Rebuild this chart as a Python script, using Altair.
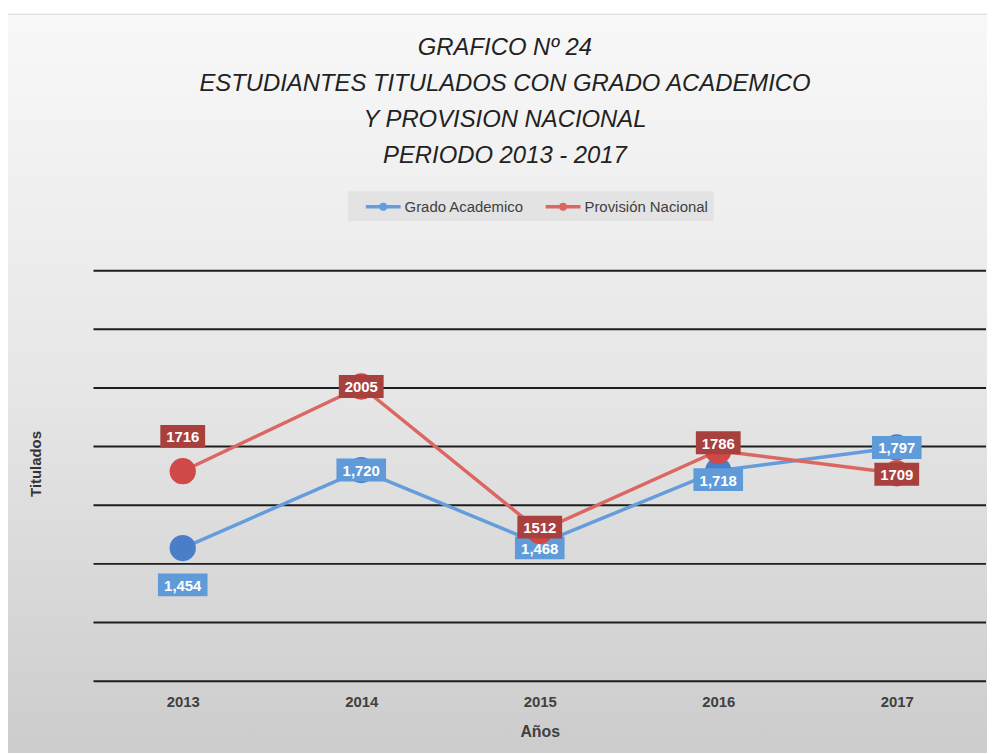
import altair as alt
import pandas as pd

# ---------------- data ----------------
years = ["2013", "2014", "2015", "2016", "2017"]
grado = [1454, 1720, 1468, 1718, 1797]
provision = [1716, 2005, 1512, 1786, 1709]
series = ["Grado Academico", "Provisión Nacional"]
grid_values = [1000, 1200, 1400, 1600, 1800, 2000, 2200, 2400]
title_lines = [
    "GRAFICO Nº 24",
    "ESTUDIANTES TITULADOS CON GRADO ACADEMICO",
    "Y  PROVISION NACIONAL",
    "PERIODO 2013 - 2017",
]

df = pd.DataFrame({
    "year": years * 2,
    "value": grado + provision,
    "serie": [series[0]] * len(years) + [series[1]] * len(years),
})
grid_df = pd.DataFrame({"value": grid_values})

# ---------------- style ----------------
W, H = 898, 413
BLUE_LINE, RED_LINE = "#649cdc", "#dc6661"
BLUE_DOT, RED_DOT = "#4b7ec8", "#d04848"
BLUE_BOX, RED_BOX = "#5f9ad9", "#a8413d"
FONT = "Liberation Sans"

# label vertical shifts (pixels) per series / year
blue_shift = {"2013": 37, "2014": 0, "2015": 4, "2016": 9, "2017": 0}
red_shift = {"2013": -35, "2014": 0, "2015": -4, "2016": -8, "2017": 1}

x = alt.X("year:O", scale=alt.Scale(type="point", padding=0.5),
          axis=alt.Axis(title="Años", labelAngle=0, ticks=False, domain=False, zindex=1,
                        labelFont=FONT, labelFontSize=15, labelFontWeight="bold",
                        labelColor="#404040", labelPadding=14,
                        titleFont=FONT, titleFontSize=16, titleFontWeight="bold",
                        titleColor="#404040", titlePadding=14, grid=False))
yscale = alt.Scale(domain=[1000, 2400], nice=False, zero=False)
y = alt.Y("value:Q", scale=yscale,
          axis=alt.Axis(labels=False, ticks=False, domain=False, grid=False, zindex=1,
                        title="Titulados", titleFont=FONT, titleFontSize=15,
                        titleFontWeight="bold", titleColor="#333333", titlePadding=50,
                        titleY=194))

bg = alt.Chart(pd.DataFrame({"k": [0]})).mark_rect(
    fill=alt.Gradient(gradient="linear", x1=0, x2=0, y1=0, y2=1,
                      stops=[alt.GradientStop(color="#f8f8f8", offset=0),
                             alt.GradientStop(color="#e6e6e6", offset=0.5),
                             alt.GradientStop(color="#cbcbcb", offset=1)]),
    stroke="#d6d6d6", strokeWidth=1,
).encode(x=alt.value(-89), x2=alt.value(W + 20), y=alt.value(-258), y2=alt.value(H + 90))

grid = alt.Chart(grid_df).mark_rule(color="#1e1e1e", strokeWidth=2).encode(
    y=y, x=alt.value(0), x2=alt.value(W))

legend_shape = "M-2,0H2M0.26,0A0.26,0.26,0,1,1,-0.26,0A0.26,0.26,0,1,1,0.26,0Z"

lines = alt.Chart(df).mark_line(strokeWidth=3.5).encode(
    x=x, y=y,
    color=alt.Color("serie:N", scale=alt.Scale(domain=series, range=[BLUE_LINE, RED_LINE]),
                    legend=alt.Legend(orient="none", legendX=256, legendY=-80, title=None,
                                      direction="horizontal", fillColor="#e3e3e3",
                                      padding=5, symbolType=legend_shape, symbolSize=306,
                                      symbolStrokeWidth=3.5, labelFont=FONT,
                                      labelFontSize=15, labelColor="#404040",
                                      columnPadding=8, labelOffset=11, symbolOffset=20)),
)

layers = [bg, grid, lines]

def series_layers(name, vals_fmt, dot, box, half_w, shift):
    base = alt.Chart(df).transform_filter(alt.datum.serie == name)
    out = [base.mark_circle(size=700, opacity=1, color=dot).encode(x=x, y=y)]
    shape = f"M-{half_w},-1H{half_w}V1H-{half_w}Z"
    for yr in years:
        b = base.transform_filter(alt.datum.year == yr)
        out.append(b.mark_point(shape=shape, size=529, filled=True, opacity=1,
                                color=box, strokeWidth=0, yOffset=shift[yr]).encode(x=x, y=y))
        out.append(b.mark_text(font=FONT, fontSize=15, fontWeight="bold", color="white",
                               yOffset=shift[yr], baseline="middle", dy=1).encode(
            x=x, y=y, text=alt.Text("value:Q", format=vals_fmt)))
    return out

layers += series_layers(series[0], ",", BLUE_DOT, BLUE_BOX, 2.17, blue_shift)
layers += series_layers(series[1], "d", RED_DOT, RED_BOX, 1.96, red_shift)

chart = alt.layer(*layers).properties(
    width=W, height=H,
    autosize="none",
    padding={"left": 86, "top": 262, "right": 1, "bottom": 70},
    title=alt.TitleParams(text=title_lines, font=FONT, fontSize=24,
                          fontStyle="italic", fontWeight="normal", color="#222222",
                          lineHeight=36, anchor="middle", dx=-35, dy=179, offset=24),
).configure_view(stroke=None)

chart.save("out.html", embed_options={"renderer": "svg", "actions": False})
